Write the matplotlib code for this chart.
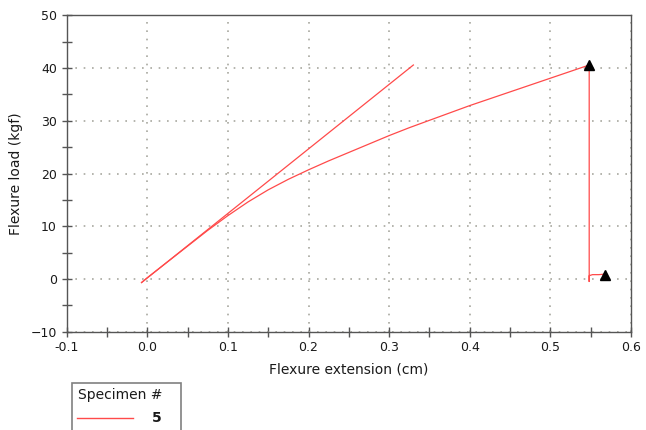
import matplotlib
matplotlib.use("Agg")
import matplotlib.pyplot as plt
from matplotlib.patches import Rectangle
from matplotlib.lines import Line2D
from matplotlib.ticker import MultipleLocator, FormatStrFormatter

# Data
curve_x = [-0.007, 0.0, 0.025, 0.05, 0.075, 0.1, 0.125, 0.15, 0.175, 0.2, 0.225, 0.25,
           0.275, 0.3, 0.325, 0.35, 0.375, 0.4, 0.425, 0.45, 0.475, 0.5, 0.525, 0.548,
           0.548, 0.548, 0.552, 0.56, 0.568]
curve_y = [-0.7, 0.2, 3.2, 6.2, 9.2, 12.0, 14.6, 16.9, 18.9, 20.7, 22.4, 24.0,
           25.6, 27.2, 28.7, 30.1, 31.5, 32.9, 34.2, 35.5, 36.8, 38.1, 39.4, 40.6,
           -0.5, 0.6, 0.8, 0.8, 0.9]
tangent_x = [-0.007, 0.33]
tangent_y = [-0.7, 40.6]
marker_x = [0.548, 0.568]
marker_y = [40.6, 0.8]
legend_title = "Specimen #"
legend_label = "5"

fig = plt.figure(figsize=(6.46, 4.30), dpi=100)
ax = fig.add_axes([0.103, 0.229, 0.874, 0.735])

red = "#ff4a4a"
ax.plot(curve_x, curve_y, color=red, lw=0.9, zorder=3)
ax.plot(tangent_x, tangent_y, color=red, lw=0.9, zorder=3)
ax.plot(marker_x, marker_y, ls="none", marker="^", color="black", ms=7, zorder=4)

ax.set_xlim(-0.1, 0.6)
ax.set_ylim(-10, 50)
ax.xaxis.set_major_locator(MultipleLocator(0.1))
ax.xaxis.set_minor_locator(MultipleLocator(0.05))
ax.yaxis.set_major_locator(MultipleLocator(10))
ax.yaxis.set_minor_locator(MultipleLocator(5))
ax.xaxis.set_major_formatter(FormatStrFormatter("%.1f"))

ax.grid(True, which="major", color="#a8a8a0", linestyle=(0, (1, 4)), lw=1.2)
ax.set_axisbelow(True)
for s in ax.spines.values():
    s.set_color("#555555")
    s.set_linewidth(1.0)
ax.tick_params(which="both", direction="inout", colors="#555555", labelcolor="#1a1a1a",
               labelsize=9, length=7, width=1)

ax.set_xlabel("Flexure extension (cm)", fontsize=10, color="#1a1a1a", labelpad=6)
ax.set_ylabel("Flexure load (kgf)", fontsize=10, color="#1a1a1a", labelpad=5)

# Legend box (cut off by bottom of figure, as in reference)
W, H = 646, 430
x0, y0, x1 = 72 / W, 1 - 383 / H, 181 / W
fig.patches.append(Rectangle((x0, -0.05), x1 - x0, y0 + 0.05, transform=fig.transFigure,
                             fill=False, edgecolor="#808080", lw=1.2))
fig.text(78 / W, 1 - 395 / H, legend_title, fontsize=10, color="#1a1a1a", va="center")
fig.lines.append(Line2D([77 / W, 133 / W], [1 - 418 / H] * 2, transform=fig.transFigure,
                        color=red, lw=1.0))
fig.text(152 / W, 1 - 418 / H, legend_label, fontsize=10, fontweight="bold",
         color="#1a1a1a", va="center")

fig.savefig("out.png", dpi=100)
